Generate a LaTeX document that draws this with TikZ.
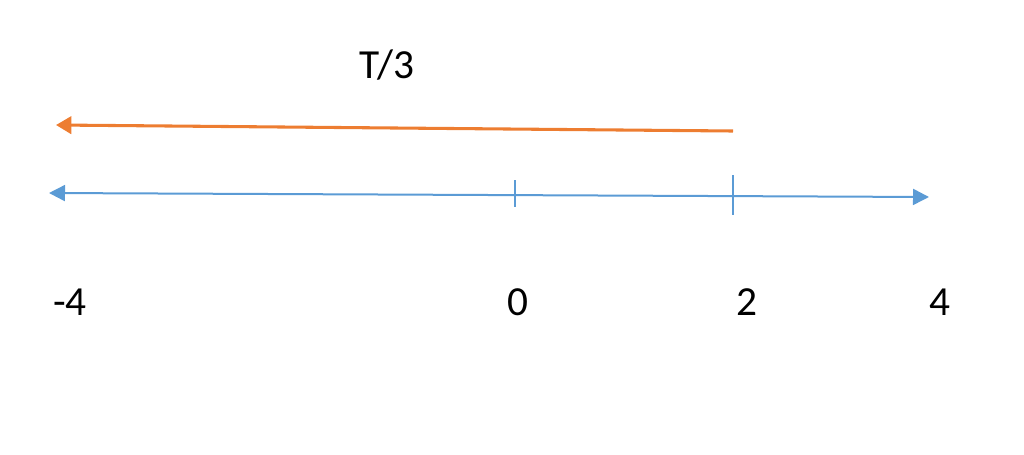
\documentclass[tikz,border=0pt]{standalone}
\usepackage{fontspec}
\setmainfont{Carlito}
\usetikzlibrary{arrows.meta}
\definecolor{axisblue}{HTML}{5B9BD5}
\definecolor{arroworange}{HTML}{ED7D31}
\begin{document}
\begin{tikzpicture}[x=0.75pt,y=-0.75pt,
  axisline/.style={draw=axisblue,line width=1.5pt,
    {Triangle[length=12pt,width=12pt]}-{Triangle[length=12pt,width=12pt]}},
  tickline/.style={draw=axisblue,line width=1.4pt},
  movearrow/.style={draw=arroworange,line width=2.3pt,
    -{Triangle[length=11.5pt,width=13pt]}},
  lbl/.style={font=\fontsize{31}{37}\selectfont,anchor=base,inner sep=0pt}]
\useasboundingbox (0,0) rectangle (1024,454);
\coordinate (axL) at (49,193);
\coordinate (axR) at (929,197);
\coordinate (t0a) at (515,180);
\coordinate (t0b) at (515,207);
\coordinate (t2a) at (733,175);
\coordinate (t2b) at (733,215);
\coordinate (oS) at (733,131);
\coordinate (oE) at (56,125);
\draw[axisline] (axL) -- (axR);
\draw[tickline] (t0a) -- (t0b);
\draw[tickline] (t2a) -- (t2b);
\draw[movearrow] (oS) -- (oE);
\node[lbl] (lt) at (387,78) {T/3};
\node[lbl] (lm4) at (70,315) {-4};
\node[lbl] (l0) at (518,315) {0};
\node[lbl] (l2) at (747,315) {2};
\node[lbl] (l4) at (940,315) {4};
\end{tikzpicture}
\end{document}
